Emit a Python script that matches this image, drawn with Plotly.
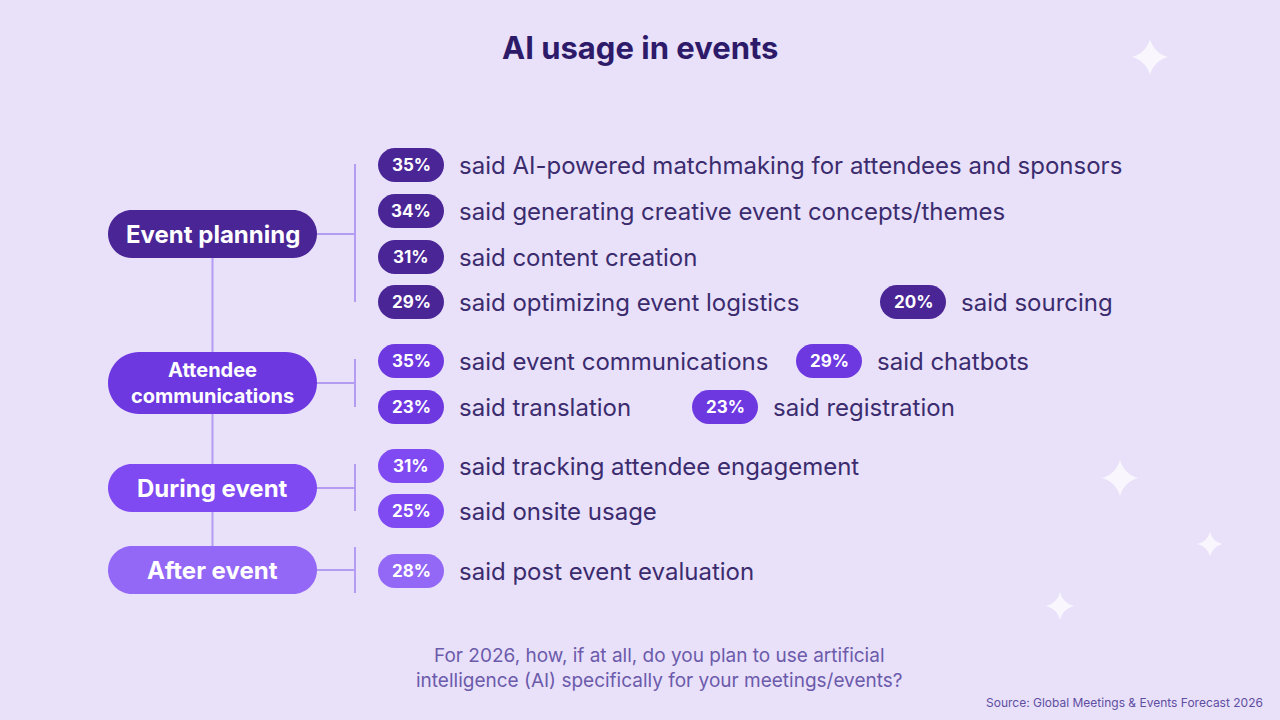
import plotly.graph_objects as go

# ---------------- data ----------------
categories = ["Event planning", "Attendee<br>communications", "During event", "After event"]
item_group = [0, 0, 0, 0, 0, 1, 1, 1, 1, 2, 2, 3]
item_pct = [35, 34, 31, 29, 20, 35, 29, 23, 23, 31, 25, 28]
item_label = [
    "said AI-powered matchmaking for attendees and sponsors",
    "said generating creative event concepts/themes",
    "said content creation",
    "said optimizing event logistics",
    "said sourcing",
    "said event communications",
    "said chatbots",
    "said translation",
    "said registration",
    "said tracking attendee engagement",
    "said onsite usage",
    "said post event evaluation",
]
title_text = "AI usage in events"
question_text = "For 2026, how, if at all, do you plan to use artificial<br>intelligence (AI) specifically for your meetings/events?"
source_text = "Source: Global Meetings & Events Forecast 2026"

# ---------------- layout (pixels) ----------------
W, H = 1280, 720
BG = "#E9E0FA"
group_colors = ["#4A2596", "#6D38E0", "#7F4AF2", "#9468F6"]
cat_y = [234, 383, 488, 570]
cat_h = [48, 62, 48, 48]
cat_x0, cat_x1 = 108, 317
bracket_x = 355
bracket_span = [(164, 302), (359, 407), (464, 511), (547, 593)]
item_row_y = [165, 211, 257, 302, 302, 361, 361, 407, 407, 466, 511, 571]
item_pill_x = [378, 378, 378, 378, 880, 378, 796, 378, 692, 378, 378, 378]
pill_w, pill_h = 66, 34
text_gap = 15
FONT = "Inter"
TEXT_COL = "#3B2C6E"
LINE_COL = "#B39CF2"
sparkles = [(1150, 57, 26), (1120, 478, 26), (1210, 544, 18), (1060, 606, 20)]


def pill_path(x0, x1, yc, h):
    r = h / 2
    k = 0.5523 * r
    y0, y1 = yc - r, yc + r
    return (
        f"M {x0 + r},{y0} L {x1 - r},{y0} "
        f"C {x1 - r + k},{y0} {x1},{yc - k} {x1},{yc} "
        f"C {x1},{yc + k} {x1 - r + k},{y1} {x1 - r},{y1} "
        f"L {x0 + r},{y1} "
        f"C {x0 + r - k},{y1} {x0},{yc + k} {x0},{yc} "
        f"C {x0},{yc - k} {x0 + r - k},{y0} {x0 + r},{y0} Z"
    )


fig = go.Figure()
shapes = []
annotations = []

# trunk line linking category pills
shapes.append(dict(type="line", x0=(cat_x0 + cat_x1) / 2, x1=(cat_x0 + cat_x1) / 2,
                   y0=cat_y[0], y1=cat_y[-1], line=dict(color=LINE_COL, width=2), layer="below"))

for g, name in enumerate(categories):
    yc = cat_y[g]
    shapes.append(dict(type="line", x0=cat_x1 - 5, x1=bracket_x, y0=yc, y1=yc,
                       line=dict(color=LINE_COL, width=2), layer="below"))
    b0, b1 = bracket_span[g]
    shapes.append(dict(type="line", x0=bracket_x, x1=bracket_x, y0=b0, y1=b1,
                       line=dict(color=LINE_COL, width=2), layer="below"))
    shapes.append(dict(type="path", path=pill_path(cat_x0, cat_x1, yc, cat_h[g]),
                       fillcolor=group_colors[g], line=dict(width=0), layer="below"))
    fs = 20 if "<br>" in name else 24
    annotations.append(dict(x=(cat_x0 + cat_x1) / 2, y=yc, text=f"<b>{name}</b>", showarrow=False,
                            font=dict(family=FONT, size=fs, color="white"),
                            xanchor="center", yanchor="middle"))

for i, pct in enumerate(item_pct):
    g = item_group[i]
    x0 = item_pill_x[i]
    yc = item_row_y[i]
    shapes.append(dict(type="path", path=pill_path(x0, x0 + pill_w, yc, pill_h),
                       fillcolor=group_colors[g], line=dict(width=0), layer="below"))
    annotations.append(dict(x=x0 + pill_w / 2, y=yc, text=f"<b>{pct}%</b>", showarrow=False,
                            font=dict(family=FONT, size=17, color="white"),
                            xanchor="center", yanchor="middle"))
    annotations.append(dict(x=x0 + pill_w + text_gap - 2, y=yc, text=item_label[i], showarrow=False,
                            font=dict(family=FONT, size=24, color=TEXT_COL),
                            xanchor="left", yanchor="middle"))

# title, question, source
annotations.append(dict(x=640, y=47, text=f"<b>{title_text}</b>", showarrow=False,
                        font=dict(family=FONT, size=31, color="#2D1A69"),
                        xanchor="center", yanchor="middle"))
annotations.append(dict(x=659, y=668, text=question_text, showarrow=False,
                        font=dict(family=FONT, size=19, color="#6B5BAA"),
                        xanchor="center", yanchor="middle", align="center"))
annotations.append(dict(x=1265, y=702, text=source_text, showarrow=False,
                        font=dict(family=FONT, size=12, color="#5E4FA0"),
                        xanchor="right", yanchor="middle"))

# sparkles
fig.add_trace(go.Scatter(
    x=[s[0] for s in sparkles], y=[s[1] for s in sparkles], mode="markers",
    marker=dict(symbol="star-diamond", size=[s[2] for s in sparkles], color="white",
                line=dict(width=0)),
    hoverinfo="skip", showlegend=False))

fig.update_layout(
    width=W, height=H, margin=dict(l=0, r=0, t=0, b=0),
    paper_bgcolor=BG, plot_bgcolor=BG,
    xaxis=dict(range=[0, W], visible=False, fixedrange=True),
    yaxis=dict(range=[H, 0], visible=False, fixedrange=True),
    shapes=shapes, annotations=annotations, showlegend=False,
)
fig.write_html(
    "out.html",
    config={"displayModeBar": False},
    post_script="document.body.style.margin='0';document.body.style.overflow='hidden';document.body.style.background='%s';" % BG,
)
